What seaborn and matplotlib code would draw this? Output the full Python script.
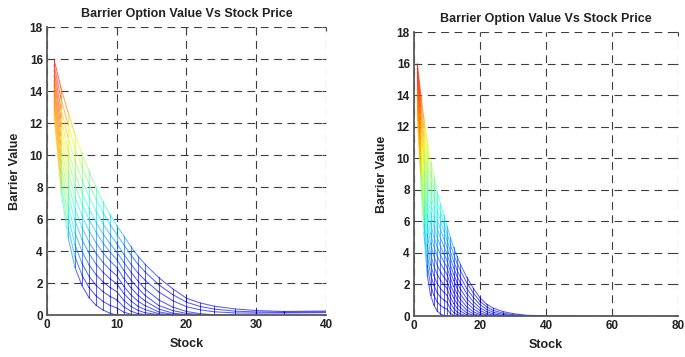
import matplotlib
matplotlib.use("Agg")
import matplotlib.pyplot as plt
from matplotlib.colors import ListedColormap
import numpy as np
import pandas as pd
import seaborn as sns

TITLE = "Barrier Option Value Vs Stock Price"
X_LABEL = "Stock"
Y_LABEL = "Barrier Value"

# ---------------- left panel (stock 0..40) ----------------
left_xticks = [0, 10, 20, 30, 40]
left_yticks = [0, 2, 4, 6, 8, 10, 12, 14, 16, 18]
left_stock = [1, 2, 3, 4, 5, 6, 7, 8, 9, 10, 11, 12, 13, 14, 16, 18, 20, 22, 24, 27, 30, 34, 40]

left_c00 = [12.5, 7.8, 4.9, 3.0, 1.85, 1.1, 0.62, 0.32, 0.12, 0.0, 0.0, 0.0, 0.0, 0.0, 0.0, 0.0, 0.0, 0.0, 0.0, 0.0, 0.0, 0.0, 0.0]
left_c01 = [12.78, 8.31, 5.52, 3.66, 2.51, 1.73, 1.21, 0.86, 0.61, 0.45, 0.18, 0.05, 0.01, 0.0, 0.0, 0.0, 0.0, 0.0, 0.0, 0.0, 0.0, 0.0, 0.0]
left_c02 = [13.1, 8.89, 6.23, 4.41, 3.25, 2.44, 1.87, 1.47, 1.17, 0.95, 0.52, 0.25, 0.09, 0.03, 0.0, 0.0, 0.0, 0.0, 0.0, 0.0, 0.0, 0.0, 0.0]
left_c03 = [13.41, 9.46, 6.93, 5.16, 4.0, 3.15, 2.54, 2.08, 1.73, 1.46, 0.92, 0.55, 0.3, 0.15, 0.01, 0.0, 0.0, 0.0, 0.0, 0.0, 0.0, 0.0, 0.0]
left_c04 = [13.73, 10.04, 7.63, 5.91, 4.74, 3.87, 3.2, 2.69, 2.28, 1.96, 1.35, 0.9, 0.56, 0.35, 0.08, 0.0, 0.0, 0.0, 0.0, 0.0, 0.0, 0.0, 0.0]
left_c05 = [14.04, 10.62, 8.33, 6.65, 5.48, 4.58, 3.87, 3.3, 2.84, 2.46, 1.8, 1.28, 0.88, 0.6, 0.2, 0.04, 0.0, 0.0, 0.0, 0.0, 0.0, 0.0, 0.0]
left_c06 = [14.36, 11.19, 9.03, 7.4, 6.22, 5.29, 4.53, 3.91, 3.4, 2.97, 2.3, 1.72, 1.25, 0.9, 0.38, 0.12, 0.02, 0.0, 0.0, 0.0, 0.0, 0.0, 0.0]
left_c07 = [14.67, 11.77, 9.74, 8.15, 6.97, 6.0, 5.2, 4.52, 3.95, 3.47, 2.8, 2.2, 1.7, 1.25, 0.6, 0.28, 0.1, 0.02, 0.0, 0.0, 0.0, 0.0, 0.0]
left_c08 = [14.97, 12.31, 10.4, 8.85, 7.67, 6.67, 5.82, 5.1, 4.48, 3.95, 3.3, 2.7, 2.15, 1.65, 0.95, 0.5, 0.22, 0.08, 0.02, 0.0, 0.0, 0.0, 0.0]
left_c09 = [15.3, 12.92, 11.14, 9.64, 8.45, 7.42, 6.52, 5.74, 5.06, 4.48, 3.8, 3.2, 2.65, 2.2, 1.45, 0.9, 0.52, 0.32, 0.2, 0.13, 0.12, 0.13, 0.15]
left_c10 = [15.65, 13.56, 11.92, 10.47, 9.28, 8.21, 7.26, 6.42, 5.68, 5.04, 4.4, 3.78, 3.2, 2.72, 1.9, 1.28, 0.8, 0.53, 0.37, 0.24, 0.19, 0.17, 0.2]
left_c11 = [16.0, 14.2, 12.7, 11.3, 10.1, 9.0, 8.0, 7.1, 6.3, 5.6, 4.95, 4.3, 3.7, 3.2, 2.35, 1.65, 1.05, 0.75, 0.55, 0.38, 0.28, 0.22, 0.25]

# ---------------- right panel (stock 0..80) ----------------
right_xticks = [0, 20, 40, 60, 80]
right_yticks = [0, 2, 4, 6, 8, 10, 12, 14, 16, 18]
right_stock = [1, 2, 3, 4, 5, 6, 7, 8, 9, 10, 11, 12, 13, 14, 16, 18, 20, 22, 24, 27, 30, 34, 40, 50, 60, 70, 80]

right_c00 = [12.5, 8.8, 5.3, 2.6, 1.35, 0.7, 0.32, 0.13, 0.04, 0.0, 0.0, 0.0, 0.0, 0.0, 0.0, 0.0, 0.0, 0.0, 0.0, 0.0, 0.0, 0.0, 0.0, 0.0, 0.0, 0.0, 0.0]
right_c01 = [12.77, 9.21, 5.85, 3.25, 2.0, 1.32, 0.9, 0.67, 0.53, 0.44, 0.17, 0.05, 0.01, 0.0, 0.0, 0.0, 0.0, 0.0, 0.0, 0.0, 0.0, 0.0, 0.0, 0.0, 0.0, 0.0, 0.0]
right_c02 = [13.04, 9.62, 6.41, 3.91, 2.65, 1.95, 1.49, 1.2, 1.02, 0.88, 0.48, 0.23, 0.1, 0.04, 0.0, 0.0, 0.0, 0.0, 0.0, 0.0, 0.0, 0.0, 0.0, 0.0, 0.0, 0.0, 0.0]
right_c03 = [13.31, 10.02, 6.96, 4.56, 3.3, 2.57, 2.07, 1.74, 1.51, 1.32, 0.83, 0.49, 0.27, 0.14, 0.02, 0.0, 0.0, 0.0, 0.0, 0.0, 0.0, 0.0, 0.0, 0.0, 0.0, 0.0, 0.0]
right_c04 = [13.58, 10.43, 7.52, 5.22, 3.95, 3.19, 2.65, 2.28, 2.0, 1.76, 1.2, 0.8, 0.52, 0.32, 0.08, 0.01, 0.0, 0.0, 0.0, 0.0, 0.0, 0.0, 0.0, 0.0, 0.0, 0.0, 0.0]
right_c05 = [13.85, 10.84, 8.07, 5.87, 4.6, 3.82, 3.24, 2.81, 2.49, 2.19, 1.6, 1.15, 0.8, 0.54, 0.2, 0.05, 0.0, 0.0, 0.0, 0.0, 0.0, 0.0, 0.0, 0.0, 0.0, 0.0, 0.0]
right_c06 = [14.12, 11.25, 8.63, 6.53, 5.25, 4.44, 3.82, 3.35, 2.98, 2.63, 2.01, 1.51, 1.11, 0.8, 0.37, 0.14, 0.03, 0.0, 0.0, 0.0, 0.0, 0.0, 0.0, 0.0, 0.0, 0.0, 0.0]
right_c07 = [14.38, 11.65, 9.17, 7.17, 5.9, 5.06, 4.4, 3.88, 3.46, 3.07, 2.42, 1.88, 1.44, 1.08, 0.58, 0.27, 0.1, 0.02, 0.0, 0.0, 0.0, 0.0, 0.0, 0.0, 0.0, 0.0, 0.0]
right_c08 = [14.65, 12.06, 9.73, 7.83, 6.55, 5.68, 4.98, 4.42, 3.95, 3.51, 2.83, 2.26, 1.79, 1.39, 0.83, 0.45, 0.2, 0.07, 0.02, 0.0, 0.0, 0.0, 0.0, 0.0, 0.0, 0.0, 0.0]
right_c09 = [14.92, 12.47, 10.28, 8.48, 7.2, 6.31, 5.57, 4.95, 4.44, 3.94, 3.24, 2.65, 2.15, 1.73, 1.1, 0.66, 0.35, 0.16, 0.06, 0.01, 0.0, 0.0, 0.0, 0.0, 0.0, 0.0, 0.0]
right_c10 = [15.19, 12.88, 10.84, 9.14, 7.85, 6.93, 6.15, 5.49, 4.93, 4.38, 3.67, 3.06, 2.54, 2.1, 1.42, 0.9, 0.52, 0.28, 0.14, 0.04, 0.0, 0.0, 0.0, 0.0, 0.0, 0.0, 0.0]
right_c11 = [15.46, 13.28, 11.39, 9.79, 8.5, 7.55, 6.73, 6.03, 5.42, 4.82, 4.1, 3.48, 2.95, 2.48, 1.74, 1.17, 0.72, 0.42, 0.24, 0.1, 0.03, 0.0, 0.0, 0.0, 0.0, 0.0, 0.0]
right_c12 = [15.73, 13.69, 11.95, 10.45, 9.15, 8.18, 7.32, 6.56, 5.91, 5.26, 4.55, 3.92, 3.38, 2.9, 2.1, 1.45, 0.93, 0.58, 0.36, 0.18, 0.08, 0.02, 0.0, 0.0, 0.0, 0.0, 0.0]
right_c13 = [16.0, 14.1, 12.5, 11.1, 9.8, 8.8, 7.9, 7.1, 6.4, 5.7, 5.0, 4.35, 3.8, 3.3, 2.45, 1.75, 1.15, 0.75, 0.5, 0.28, 0.15, 0.05, 0.01, 0.0, 0.0, 0.0, 0.0]

left_curves = [left_c00, left_c01, left_c02, left_c03, left_c04, left_c05,
               left_c06, left_c07, left_c08, left_c09, left_c10, left_c11]
right_curves = [right_c00, right_c01, right_c02, right_c03, right_c04, right_c05, right_c06,
                right_c07, right_c08, right_c09, right_c10, right_c11, right_c12, right_c13]


def mesh_frame(stock, curves):
    """Long-form table of mesh edges: along stock for each curve (coloured by the
    first vertex, like a flat-coloured mesh), and across curves at each stock."""
    rows = []
    seg = 0
    for c in curves:
        for i in range(len(stock) - 1):
            lvl = c[i]
            rows.append((seg, stock[i], c[i], lvl))
            rows.append((seg, stock[i + 1], c[i + 1], lvl))
            seg += 1
    for i, s in enumerate(stock):
        for j in range(len(curves) - 1):
            a, b = curves[j][i], curves[j + 1][i]
            if a == b:
                continue
            lvl = (a + b) / 2
            rows.append((seg, s, a, lvl))
            rows.append((seg, s, b, lvl))
            seg += 1
    return pd.DataFrame(rows, columns=["seg", "Stock", "Value", "level"])


sns.set_theme(style="white")
plt.rcParams["font.family"] = ["Liberation Sans", "DejaVu Sans"]

jet = ListedColormap(matplotlib.colormaps["jet"](np.linspace(0.1, 1.0, 256)))

fig = plt.figure(figsize=(6.85, 3.57), dpi=100)
ax_l = fig.add_axes([0.0686, 0.1176, 0.4073, 0.8067])
ax_r = fig.add_axes([0.6044, 0.1148, 0.3854, 0.7955])

panels = [
    (ax_l, left_stock, left_curves, left_xticks, left_yticks, 40),
    (ax_r, right_stock, right_curves, right_xticks, right_yticks, 80),
]

for ax, stock, curves, xt, yt, xmax in panels:
    df = mesh_frame(stock, curves)
    sns.lineplot(data=df, x="Stock", y="Value", units="seg", estimator=None,
                 hue="level", palette=jet, hue_norm=(2.0, 18.0), legend=False,
                 lw=0.75, alpha=0.65, sort=False, ax=ax)
    ax.set_xlim(0, xmax)
    ax.set_ylim(0, 18)
    ax.set_xticks(xt)
    ax.set_yticks(yt)
    ax.grid(True, linestyle=(0, (7, 5)), color="#3c3c3c", lw=0.8)
    ax.set_axisbelow(True)
    for side in ["top", "right"]:
        ax.spines[side].set_visible(False)
    for side in ["left", "bottom"]:
        ax.spines[side].set_color("#5a5a5a")
        ax.spines[side].set_linewidth(1.3)
    ax.tick_params(direction="in", length=3, width=0.8, color="#444444",
                   labelsize=8.5, pad=3, top=True, right=True, labelcolor="#222222")
    for lbl in ax.get_xticklabels() + ax.get_yticklabels():
        lbl.set_fontweight("bold")
    ax.set_title(TITLE, fontsize=9, fontweight="bold", color="#222222", pad=7)
    ax.set_xlabel(X_LABEL, fontsize=9, fontweight="bold", color="#222222", labelpad=5)
    ax.set_ylabel(Y_LABEL, fontsize=9, fontweight="bold", color="#222222", labelpad=6)

fig.savefig("out.png", dpi=100)
